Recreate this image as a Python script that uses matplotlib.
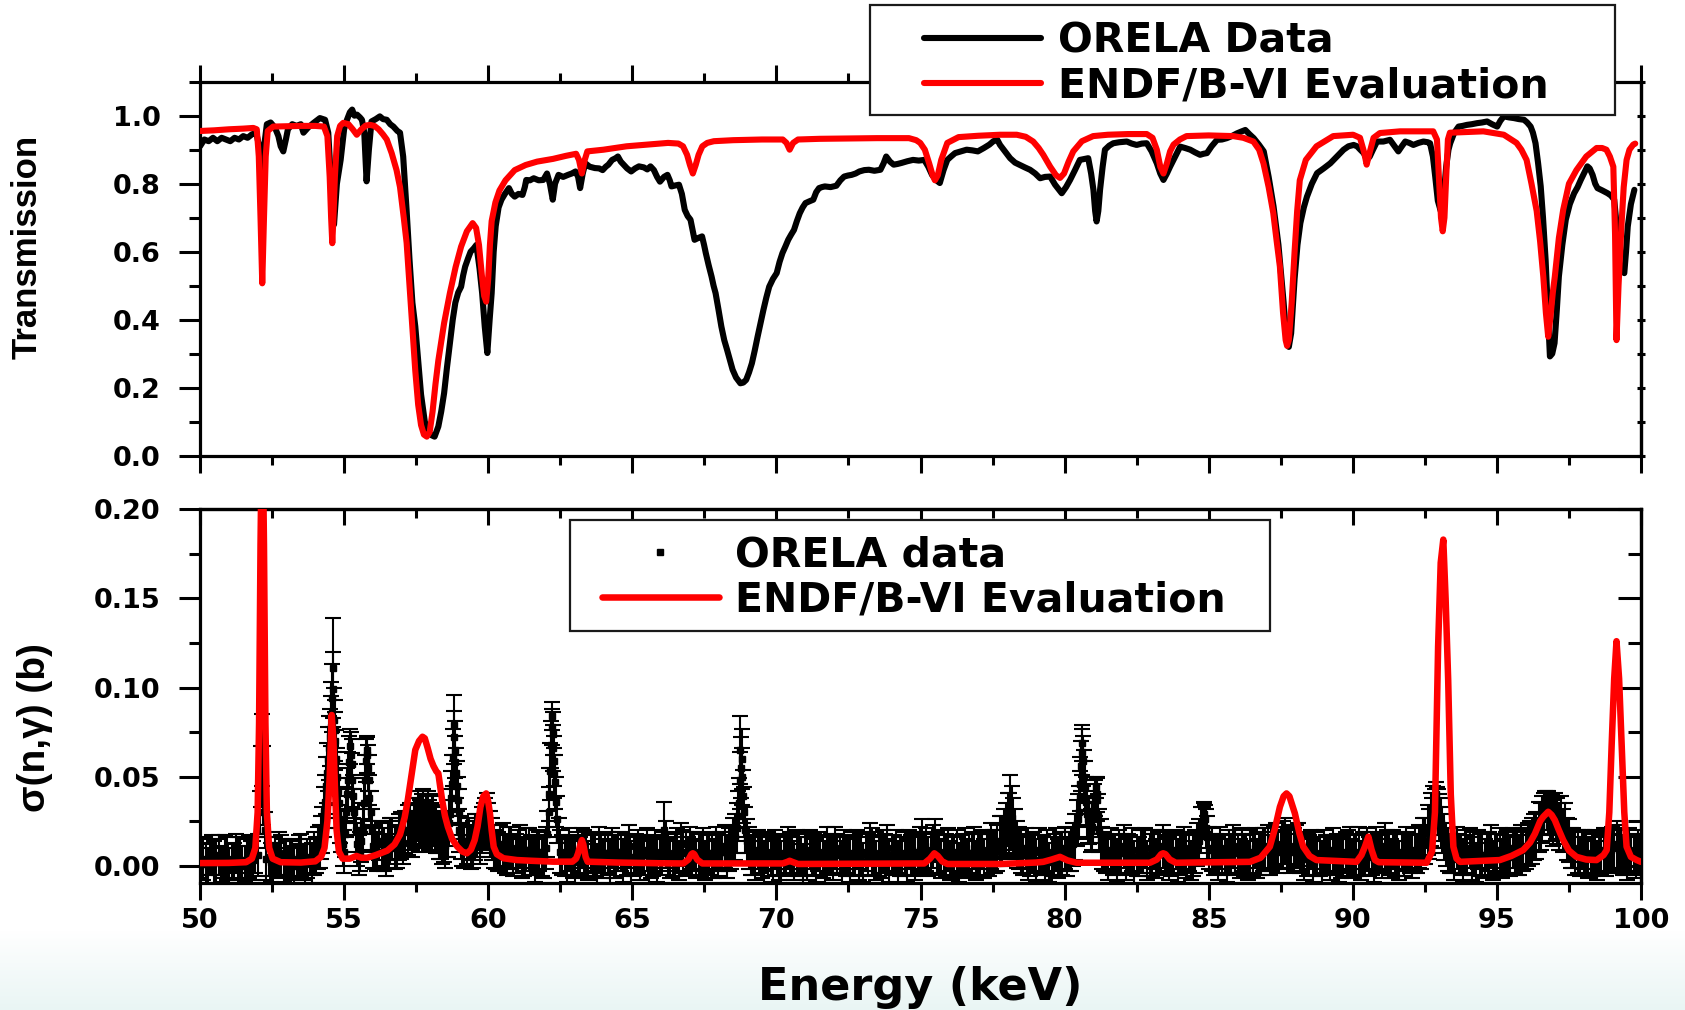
import numpy as np
import matplotlib
matplotlib.use('Agg')
import matplotlib.pyplot as plt
from matplotlib.lines import Line2D
from matplotlib.patches import Rectangle
from matplotlib.ticker import MultipleLocator, FormatStrFormatter

# ---------------- data: transmission (top panel) ----------------
trans_E = [50.0, 50.15, 50.3, 50.45, 50.6, 50.75, 50.9, 51.05, 51.2, 51.35,
           51.5, 51.65, 51.8, 51.95, 52.08, 52.16, 52.24, 52.32, 52.45, 52.6,
           52.72, 52.8, 52.89, 52.98, 53.05, 53.2, 53.35, 53.5, 53.59, 53.75,
           53.93, 54.16, 54.34, 54.45, 54.55, 54.65, 54.75, 54.88, 55.0, 55.1,
           55.2, 55.28, 55.36, 55.45, 55.55, 55.62, 55.7, 55.78, 55.86, 55.95,
           56.1, 56.24, 56.35, 56.48, 56.6, 56.71, 56.85, 56.94, 57.05, 57.17,
           57.27, 57.37, 57.47, 57.57, 57.67, 57.8, 57.94, 58.04, 58.14, 58.27,
           58.37, 58.47, 58.57, 58.67, 58.77, 58.86, 58.96, 59.06, 59.13, 59.2,
           59.3, 59.39, 59.5, 59.59, 59.7, 59.79, 59.88, 59.97, 60.05, 60.12,
           60.19, 60.26, 60.36, 60.46, 60.58, 60.72, 60.82, 60.92, 61.05, 61.19,
           61.27, 61.32, 61.45, 61.58, 61.75, 61.91, 62.04, 62.14, 62.24, 62.32,
           62.44, 62.6, 62.77, 62.9, 63.03, 63.12, 63.19, 63.28, 63.37, 63.52,
           63.7, 63.85, 63.97, 64.08, 64.17, 64.3, 64.42, 64.5, 64.6, 64.7,
           64.82, 64.96, 65.1, 65.23, 65.4, 65.52, 65.63, 65.75, 65.86, 65.96,
           66.1, 66.22, 66.3, 66.36, 66.5, 66.62, 66.72, 66.82, 66.92, 67.02,
           67.1, 67.16, 67.28, 67.42, 67.49, 67.55, 67.65, 67.75, 67.82, 67.89,
           67.99, 68.09, 68.19, 68.29, 68.39, 68.48, 68.6, 68.75, 68.85, 68.95,
           69.05, 69.15, 69.25, 69.35, 69.45, 69.55, 69.65, 69.75, 69.88, 70.01,
           70.11, 70.21, 70.31, 70.41, 70.51, 70.61, 70.71, 70.81, 70.91, 71.01,
           71.14, 71.28, 71.38, 71.48, 71.58, 71.68, 71.88, 72.08, 72.22, 72.35,
           72.48, 72.61, 72.75, 72.88, 73.05, 73.21, 73.4, 73.61, 73.72, 73.81,
           73.94, 74.07, 74.2, 74.34, 74.54, 74.74, 74.94, 75.13, 75.27, 75.4,
           75.55, 75.67, 75.8, 75.93, 76.06, 76.2, 76.4, 76.6, 76.8, 76.99,
           77.2, 77.39, 77.53, 77.66, 77.76, 77.93, 78.11, 78.28, 78.45, 78.62,
           78.8, 78.98, 79.15, 79.32, 79.5, 79.67, 79.9, 80.05, 80.19, 80.36,
           80.53, 80.7, 80.82, 80.92, 81.0, 81.06, 81.11, 81.17, 81.23, 81.32,
           81.4, 81.55, 81.69, 81.9, 82.16, 82.33, 82.5, 82.68, 82.85, 83.02,
           83.2, 83.32, 83.43, 83.55, 83.66, 83.84, 84.01, 84.18, 84.36, 84.53,
           84.7, 84.82, 84.94, 85.1, 85.29, 85.46, 85.63, 85.8, 85.98, 86.12,
           86.27, 86.42, 86.56, 86.74, 86.91, 87.08, 87.25, 87.42, 87.6, 87.7,
           87.78, 87.86, 87.98, 88.08, 88.18, 88.3, 88.41, 88.58, 88.76, 88.99,
           89.22, 89.45, 89.68, 89.85, 90.03, 90.15, 90.26, 90.38, 90.49, 90.59,
           90.7, 90.84, 91.06, 91.29, 91.45, 91.58, 91.7, 91.82, 91.96, 92.1,
           92.28, 92.45, 92.6, 92.68, 92.78, 92.86, 92.95, 93.05, 93.14, 93.24,
           93.32, 93.38, 93.52, 93.67, 93.81, 93.96, 94.13, 94.31, 94.48, 94.66,
           94.83, 95.01, 95.12, 95.24, 95.42, 95.59, 95.76, 95.94, 96.05, 96.17,
           96.25, 96.34, 96.43, 96.52, 96.6, 96.69, 96.77, 96.84, 96.92, 97.0,
           97.08, 97.15, 97.27, 97.39, 97.53, 97.68, 97.8, 97.91, 98.02, 98.14,
           98.22, 98.32, 98.41, 98.49, 98.66, 98.84, 98.96, 99.07, 99.13, 99.19,
           99.3, 99.42, 99.48, 99.54, 99.65, 99.77]
trans_T = [0.91, 0.93, 0.925, 0.935, 0.925, 0.935, 0.93, 0.925, 0.935, 0.93,
           0.94, 0.935, 0.945, 0.95, 0.90, 0.80, 0.92, 0.975, 0.98, 0.965,
           0.94, 0.91, 0.895, 0.93, 0.96, 0.975, 0.97, 0.975, 0.95, 0.965,
           0.978, 0.993, 0.988, 0.95, 0.80, 0.68, 0.80, 0.87, 0.96, 0.988,
           1.01, 1.018, 1.0, 1.003, 0.995, 0.988, 0.95, 0.807, 0.90, 0.983,
           0.99, 0.998, 0.99, 0.988, 0.975, 0.968, 0.955, 0.95, 0.88, 0.72,
           0.576, 0.45, 0.38, 0.28, 0.18, 0.10, 0.066, 0.06, 0.056, 0.086,
           0.13, 0.184, 0.26, 0.33, 0.40, 0.45, 0.48, 0.497, 0.53, 0.556,
           0.58, 0.60, 0.61, 0.62, 0.55, 0.478, 0.38, 0.302, 0.40, 0.478,
           0.60, 0.675, 0.73, 0.753, 0.77, 0.787, 0.77, 0.762, 0.77, 0.767,
           0.79, 0.811, 0.81, 0.816, 0.81, 0.811, 0.83, 0.80, 0.753, 0.80,
           0.826, 0.82, 0.826, 0.83, 0.836, 0.82, 0.787, 0.83, 0.86, 0.85,
           0.846, 0.845, 0.84, 0.85, 0.856, 0.87, 0.875, 0.88, 0.865, 0.856,
           0.845, 0.836, 0.845, 0.851, 0.848, 0.842, 0.851, 0.84, 0.82, 0.806,
           0.82, 0.826, 0.81, 0.792, 0.795, 0.797, 0.77, 0.723, 0.705, 0.694,
           0.66, 0.635, 0.64, 0.645, 0.62, 0.596, 0.56, 0.527, 0.50, 0.478,
           0.43, 0.38, 0.34, 0.311, 0.28, 0.253, 0.23, 0.213, 0.215, 0.223,
           0.245, 0.272, 0.31, 0.351, 0.39, 0.429, 0.465, 0.497, 0.52, 0.537,
           0.57, 0.596, 0.615, 0.635, 0.65, 0.664, 0.69, 0.713, 0.73, 0.743,
           0.748, 0.753, 0.775, 0.787, 0.79, 0.792, 0.79, 0.794, 0.81, 0.821,
           0.824, 0.826, 0.83, 0.836, 0.84, 0.841, 0.838, 0.841, 0.86, 0.88,
           0.865, 0.856, 0.858, 0.861, 0.866, 0.87, 0.868, 0.87, 0.85, 0.826,
           0.81, 0.802, 0.84, 0.87, 0.88, 0.89, 0.895, 0.90, 0.898, 0.895,
           0.905, 0.915, 0.925, 0.93, 0.914, 0.895, 0.875, 0.862, 0.855, 0.848,
           0.841, 0.83, 0.816, 0.82, 0.821, 0.797, 0.772, 0.79, 0.811, 0.84,
           0.87, 0.873, 0.875, 0.83, 0.782, 0.72, 0.689, 0.72, 0.782, 0.85,
           0.90, 0.912, 0.919, 0.922, 0.924, 0.918, 0.914, 0.918, 0.919, 0.895,
           0.86, 0.83, 0.811, 0.83, 0.85, 0.88, 0.909, 0.905, 0.90, 0.892,
           0.885, 0.888, 0.89, 0.91, 0.929, 0.93, 0.934, 0.94, 0.948, 0.953,
           0.958, 0.945, 0.934, 0.915, 0.895, 0.82, 0.733, 0.62, 0.45, 0.34,
           0.32, 0.36, 0.52, 0.62, 0.684, 0.73, 0.762, 0.80, 0.831, 0.845,
           0.86, 0.88, 0.90, 0.91, 0.914, 0.91, 0.90, 0.89, 0.87, 0.88,
           0.90, 0.924, 0.924, 0.929, 0.91, 0.895, 0.91, 0.924, 0.92, 0.914,
           0.92, 0.924, 0.922, 0.919, 0.88, 0.821, 0.75, 0.72, 0.75, 0.85,
           0.90, 0.919, 0.95, 0.968, 0.97, 0.973, 0.975, 0.978, 0.98, 0.983,
           0.975, 0.968, 0.985, 0.998, 0.995, 0.993, 0.99, 0.988, 0.98, 0.968,
           0.95, 0.919, 0.86, 0.792, 0.70, 0.576, 0.42, 0.292, 0.30, 0.331,
           0.43, 0.527, 0.62, 0.694, 0.74, 0.772, 0.79, 0.811, 0.83, 0.851,
           0.845, 0.826, 0.80, 0.787, 0.78, 0.772, 0.765, 0.753, 0.70, 0.576,
           0.55, 0.537, 0.60, 0.674, 0.74, 0.782]

endf_T_E = [50.0, 50.5, 51.0, 51.5, 51.85, 51.97, 52.04, 52.1, 52.16, 52.22,
            52.28, 52.35, 52.54, 53.0, 53.5, 54.0, 54.3, 54.42, 54.5, 54.55,
            54.59, 54.63, 54.68, 54.76, 54.86, 54.97, 55.15, 55.3, 55.44, 55.6,
            55.75, 55.9, 56.05, 56.2, 56.35, 56.48, 56.65, 56.82, 56.94, 57.07,
            57.17, 57.27, 57.37, 57.47, 57.57, 57.67, 57.77, 57.87, 57.97, 58.07,
            58.17, 58.27, 58.47, 58.67, 58.87, 59.06, 59.26, 59.46, 59.58, 59.68,
            59.78, 59.86, 59.93, 60.0, 60.06, 60.12, 60.25, 60.39, 60.6, 60.92,
            61.3, 61.7, 62.25, 62.7, 63.05, 63.15, 63.25, 63.35, 63.44, 64.0,
            64.8, 65.5, 66.24, 66.6, 66.76, 66.9, 67.0, 67.1, 67.2, 67.3,
            67.43, 67.6, 67.83, 68.5, 69.5, 70.22, 70.35, 70.46, 70.58, 70.75,
            71.5, 72.5, 73.5, 74.6, 74.85, 74.99, 75.15, 75.3, 75.42, 75.5,
            75.6, 75.72, 75.93, 76.32, 77.0, 77.76, 78.34, 78.65, 78.91, 79.1,
            79.26, 79.5, 79.7, 79.84, 79.98, 80.14, 80.3, 80.6, 80.99, 81.5,
            82.2, 82.85, 83.05, 83.2, 83.32, 83.43, 83.55, 83.66, 83.78, 84.0,
            84.23, 85.0, 85.85, 86.2, 86.55, 86.75, 86.9, 87.08, 87.24, 87.36,
            87.47, 87.58, 87.67, 87.72, 87.78, 87.88, 87.98, 88.07, 88.16, 88.37,
            88.74, 89.32, 90.01, 90.25, 90.4, 90.48, 90.58, 90.72, 90.94, 91.64,
            92.79, 92.92, 93.0, 93.06, 93.12, 93.18, 93.24, 93.3, 93.37, 94.53,
            95.24, 95.5, 95.68, 95.85, 96.03, 96.2, 96.38, 96.5, 96.61, 96.7,
            96.78, 96.86, 96.94, 97.01, 97.15, 97.3, 97.5, 97.76, 98.1, 98.46,
            98.65, 98.8, 98.92, 99.04, 99.1, 99.15, 99.22, 99.32, 99.4, 99.5,
            99.6, 99.73, 99.8]
endf_T = [0.955, 0.957, 0.96, 0.962, 0.964, 0.96, 0.88, 0.70, 0.507, 0.70,
          0.88, 0.955, 0.968, 0.969, 0.97, 0.97, 0.968, 0.94, 0.82, 0.70,
          0.625, 0.70, 0.82, 0.94, 0.97, 0.979, 0.975, 0.96, 0.944, 0.96,
          0.971, 0.973, 0.97, 0.96, 0.945, 0.93, 0.89, 0.84, 0.79, 0.70,
          0.626, 0.50, 0.37, 0.25, 0.15, 0.09, 0.062, 0.056, 0.07, 0.13,
          0.21, 0.28, 0.39, 0.478, 0.555, 0.615, 0.66, 0.684, 0.67, 0.62,
          0.53, 0.47, 0.453, 0.52, 0.62, 0.69, 0.745, 0.78, 0.81, 0.84,
          0.855, 0.865, 0.873, 0.882, 0.888, 0.87, 0.83, 0.87, 0.895, 0.90,
          0.91, 0.915, 0.92, 0.918, 0.91, 0.885, 0.855, 0.83, 0.855, 0.885,
          0.91, 0.92, 0.925, 0.928, 0.93, 0.93, 0.92, 0.90, 0.92, 0.93,
          0.932, 0.933, 0.934, 0.934, 0.928, 0.92, 0.90, 0.86, 0.825, 0.81,
          0.825, 0.87, 0.92, 0.937, 0.941, 0.944, 0.944, 0.938, 0.924, 0.905,
          0.885, 0.85, 0.825, 0.817, 0.83, 0.865, 0.895, 0.925, 0.94, 0.944,
          0.946, 0.946, 0.935, 0.90, 0.85, 0.83, 0.86, 0.895, 0.915, 0.93,
          0.94, 0.942, 0.94, 0.935, 0.924, 0.90, 0.86, 0.79, 0.714, 0.63,
          0.556, 0.42, 0.34, 0.323, 0.34, 0.45, 0.60, 0.72, 0.81, 0.87,
          0.91, 0.94, 0.944, 0.935, 0.89, 0.856, 0.89, 0.935, 0.949, 0.954,
          0.954, 0.93, 0.80, 0.70, 0.66, 0.70, 0.82, 0.93, 0.95, 0.954,
          0.944, 0.93, 0.92, 0.90, 0.87, 0.80, 0.72, 0.63, 0.527, 0.42,
          0.35, 0.41, 0.48, 0.527, 0.64, 0.723, 0.80, 0.84, 0.88, 0.905,
          0.905, 0.90, 0.88, 0.85, 0.65, 0.34, 0.50, 0.674, 0.79, 0.87,
          0.90, 0.915, 0.918]

# ---------------- data: capture cross section (bottom panel) ----------------
# measured points, first interleaved set
cap_E = [50.05, 50.2, 50.35, 50.5, 50.65, 50.8, 50.95, 51.1, 51.25, 51.4,
         51.55, 51.7, 51.85, 52.0, 52.08, 52.12, 52.16, 52.2, 52.24, 52.3,
         52.45, 52.6, 52.75, 52.9, 53.05, 53.2, 53.35, 53.5, 53.65, 53.8,
         53.95, 54.1, 54.2, 54.3, 54.38, 54.44, 54.5, 54.55, 54.6, 54.63,
         54.66, 54.7, 54.76, 54.82, 54.9, 55.0, 55.08, 55.14, 55.2, 55.26,
         55.32, 55.4, 55.5, 55.6, 55.7, 55.76, 55.8, 55.85, 55.92, 56.0,
         56.15, 56.3, 56.45, 56.6, 56.75, 56.9, 57.05, 57.2, 57.35, 57.5,
         57.6, 57.7, 57.8, 57.9, 58.0, 58.1, 58.2, 58.3, 58.4, 58.5,
         58.6, 58.68, 58.74, 58.8, 58.84, 58.88, 58.94, 59.0, 59.1, 59.25,
         59.4, 59.55, 59.7, 59.85, 59.95, 60.05, 60.2, 60.35, 60.5, 60.65,
         60.8, 60.95, 61.1, 61.25, 61.4, 61.55, 61.7, 61.85, 62.0, 62.1,
         62.15, 62.2, 62.24, 62.28, 62.32, 62.38, 62.5, 62.65, 62.8, 62.95,
         63.1, 63.25, 63.4, 63.55, 63.7, 63.85, 64.0, 64.15, 64.3, 64.45,
         64.6, 64.75, 64.9, 65.05, 65.2, 65.35, 65.5, 65.65, 65.8, 65.95,
         66.1, 66.25, 66.4, 66.55, 66.7, 66.85, 67.0, 67.15, 67.3, 67.45,
         67.6, 67.75, 67.9, 68.05, 68.2, 68.35, 68.5, 68.62, 68.7, 68.75,
         68.8, 68.85, 68.92, 69.05, 69.2, 69.35, 69.5, 69.65, 69.8, 69.95,
         70.1, 70.25, 70.4, 70.55, 70.7, 70.85, 71.0, 71.15, 71.3, 71.45,
         71.6, 71.75, 71.9, 72.05, 72.2, 72.35, 72.5, 72.65, 72.8, 72.95,
         73.1, 73.25, 73.4, 73.55, 73.7, 73.85, 74.0, 74.15, 74.3, 74.45,
         74.6, 74.75, 74.9, 75.05, 75.2, 75.35, 75.5, 75.65, 75.8, 75.95,
         76.1, 76.25, 76.4, 76.55, 76.7, 76.85, 77.0, 77.15, 77.3, 77.45,
         77.6, 77.75, 77.9, 78.02, 78.12, 78.22, 78.35, 78.5, 78.65, 78.8,
         78.95, 79.1, 79.25, 79.4, 79.55, 79.7, 79.85, 80.0, 80.15, 80.3,
         80.42, 80.5, 80.55, 80.6, 80.65, 80.7, 80.78, 80.86, 80.95, 81.02,
         81.08, 81.14, 81.2, 81.3, 81.45, 81.6, 81.75, 81.9, 82.05, 82.2,
         82.35, 82.5, 82.65, 82.8, 82.95, 83.1, 83.25, 83.4, 83.55, 83.7,
         83.85, 84.0, 84.15, 84.3, 84.45, 84.6, 84.75, 84.82, 84.88, 84.95,
         85.1, 85.25, 85.4, 85.55, 85.7, 85.85, 86.0, 86.15, 86.3, 86.45,
         86.6, 86.75, 86.9, 87.05, 87.2, 87.35, 87.5, 87.65, 87.8, 87.95,
         88.1, 88.25, 88.4, 88.55, 88.7, 88.85, 89.0, 89.15, 89.3, 89.45,
         89.6, 89.75, 89.9, 90.05, 90.2, 90.35, 90.5, 90.65, 90.8, 90.95,
         91.1, 91.25, 91.4, 91.55, 91.7, 91.85, 92.0, 92.15, 92.3, 92.45,
         92.6, 92.7, 92.8, 92.88, 92.96, 93.05, 93.15, 93.3, 93.45, 93.6,
         93.75, 93.9, 94.05, 94.2, 94.35, 94.5, 94.65, 94.8, 94.95, 95.1,
         95.25, 95.4, 95.55, 95.7, 95.85, 96.0, 96.15, 96.3, 96.45, 96.58,
         96.68, 96.78, 96.9, 97.0, 97.1, 97.22, 97.35, 97.5, 97.65, 97.8,
         97.95, 98.1, 98.25, 98.4, 98.55, 98.7, 98.85, 99.0, 99.15, 99.3,
         99.45, 99.6, 99.75, 99.9]
cap_sig = [0.003, 0.001, 0.005, 0.002, 0.006, 0.000, 0.004, 0.002, 0.007, 0.003,
           0.001, 0.005, 0.003, 0.006, 0.030, 0.050, 0.065, 0.045, 0.020, 0.004,
           0.002, 0.005, 0.007, 0.003, 0.000, 0.004, 0.002, 0.006, 0.001, 0.005,
           0.007, 0.010, 0.016, 0.030, 0.045, 0.060, 0.072, 0.085, 0.099, 0.111,
           0.082, 0.070, 0.050, 0.035, 0.020, 0.008, 0.030, 0.048, 0.067, 0.057,
           0.039, 0.020, 0.006, 0.014, 0.035, 0.059, 0.065, 0.048, 0.030, 0.011,
           0.008, 0.012, 0.006, 0.014, 0.010, 0.016, 0.013, 0.020, 0.018, 0.024,
           0.021, 0.026, 0.023, 0.028, 0.022, 0.025, 0.020, 0.016, 0.014, 0.011,
           0.018, 0.029, 0.046, 0.079, 0.065, 0.052, 0.037, 0.020, 0.012, 0.014,
           0.010, 0.016, 0.013, 0.022, 0.026, 0.018, 0.011, 0.008, 0.012, 0.006,
           0.010, 0.007, 0.011, 0.005, 0.009, 0.006, 0.008, 0.005, 0.010, 0.030,
           0.053, 0.084, 0.074, 0.059, 0.047, 0.026, 0.008, 0.005, 0.009, 0.004,
           0.007, 0.010, 0.005, 0.008, 0.006, 0.009, 0.004, 0.007, 0.010, 0.005,
           0.008, 0.006, 0.011, 0.005, 0.008, 0.006, 0.009, 0.004, 0.008, 0.006,
           0.020, 0.007, 0.005, 0.009, 0.012, 0.007, 0.010, 0.008, 0.006, 0.009,
           0.007, 0.005, 0.010, 0.008, 0.011, 0.009, 0.014, 0.021, 0.035, 0.065,
           0.060, 0.039, 0.020, 0.010, 0.007, 0.009, 0.005, 0.008, 0.006, 0.009,
           0.004, 0.007, 0.010, 0.006, 0.008, 0.005, 0.007, 0.009, 0.006, 0.008,
           0.005, 0.009, 0.007, 0.010, 0.006, 0.008, 0.005, 0.007, 0.009, 0.006,
           0.008, 0.012, 0.007, 0.005, 0.008, 0.010, 0.006, 0.008, 0.005, 0.007,
           0.009, 0.006, 0.008, 0.012, 0.009, 0.007, 0.014, 0.008, 0.006, 0.009,
           0.005, 0.008, 0.006, 0.009, 0.007, 0.010, 0.006, 0.009, 0.007, 0.011,
           0.008, 0.014, 0.018, 0.026, 0.030, 0.022, 0.012, 0.008, 0.010, 0.006,
           0.008, 0.009, 0.006, 0.008, 0.005, 0.009, 0.007, 0.010, 0.008, 0.012,
           0.024, 0.030, 0.046, 0.069, 0.059, 0.044, 0.029, 0.024, 0.022, 0.032,
           0.044, 0.037, 0.020, 0.010, 0.007, 0.009, 0.006, 0.008, 0.011, 0.007,
           0.009, 0.005, 0.008, 0.010, 0.006, 0.009, 0.007, 0.011, 0.008, 0.006,
           0.009, 0.007, 0.010, 0.008, 0.006, 0.012, 0.020, 0.029, 0.026, 0.016,
           0.009, 0.007, 0.010, 0.006, 0.008, 0.011, 0.007, 0.009, 0.006, 0.008,
           0.010, 0.007, 0.009, 0.011, 0.008, 0.012, 0.010, 0.014, 0.011, 0.009,
           0.012, 0.008, 0.006, 0.009, 0.007, 0.005, 0.008, 0.006, 0.009, 0.007,
           0.005, 0.008, 0.010, 0.006, 0.008, 0.007, 0.009, 0.006, 0.010, 0.008,
           0.011, 0.007, 0.009, 0.006, 0.008, 0.010, 0.007, 0.009, 0.011, 0.014,
           0.020, 0.026, 0.033, 0.040, 0.030, 0.024, 0.016, 0.009, 0.007, 0.010,
           0.006, 0.008, 0.010, 0.007, 0.009, 0.006, 0.008, 0.011, 0.007, 0.009,
           0.006, 0.008, 0.010, 0.007, 0.011, 0.009, 0.013, 0.016, 0.022, 0.026,
           0.034, 0.030, 0.027, 0.029, 0.025, 0.027, 0.022, 0.014, 0.010, 0.008,
           0.009, 0.007, 0.005, 0.008, 0.006, 0.009, 0.007, 0.010, 0.012, 0.008,
           0.006, 0.009, 0.007, 0.008]
cap_err = [0.010, 0.011, 0.010, 0.012, 0.011, 0.010, 0.012, 0.010, 0.011, 0.013,
           0.010, 0.012, 0.011, 0.012, 0.012, 0.017, 0.020, 0.022, 0.010, 0.012,
           0.011, 0.011, 0.012, 0.012, 0.010, 0.011, 0.010, 0.012, 0.011, 0.010,
           0.012, 0.012, 0.012, 0.014, 0.016, 0.018, 0.016, 0.018, 0.021, 0.028,
           0.018, 0.016, 0.016, 0.014, 0.012, 0.012, 0.014, 0.016, 0.010, 0.014,
           0.012, 0.012, 0.011, 0.012, 0.014, 0.012, 0.008, 0.014, 0.012, 0.012,
           0.011, 0.012, 0.012, 0.013, 0.012, 0.013, 0.012, 0.014, 0.013, 0.014,
           0.013, 0.014, 0.013, 0.014, 0.013, 0.014, 0.013, 0.012, 0.013, 0.012,
           0.013, 0.014, 0.016, 0.017, 0.016, 0.014, 0.013, 0.012, 0.012, 0.013,
           0.012, 0.013, 0.012, 0.013, 0.015, 0.013, 0.012, 0.011, 0.012, 0.011,
           0.012, 0.011, 0.012, 0.011, 0.012, 0.011, 0.012, 0.011, 0.012, 0.014,
           0.016, 0.008, 0.012, 0.014, 0.015, 0.013, 0.012, 0.011, 0.012, 0.011,
           0.012, 0.011, 0.012, 0.011, 0.012, 0.013, 0.011, 0.012, 0.011, 0.012,
           0.011, 0.012, 0.012, 0.011, 0.012, 0.011, 0.012, 0.011, 0.012, 0.011,
           0.016, 0.012, 0.011, 0.012, 0.012, 0.012, 0.012, 0.011, 0.012, 0.012,
           0.011, 0.012, 0.012, 0.011, 0.012, 0.012, 0.013, 0.014, 0.014, 0.019,
           0.017, 0.015, 0.013, 0.012, 0.012, 0.011, 0.012, 0.011, 0.012, 0.011,
           0.012, 0.011, 0.012, 0.011, 0.012, 0.011, 0.012, 0.011, 0.012, 0.011,
           0.012, 0.013, 0.011, 0.012, 0.011, 0.012, 0.011, 0.012, 0.011, 0.012,
           0.011, 0.012, 0.012, 0.011, 0.012, 0.013, 0.011, 0.012, 0.011, 0.012,
           0.011, 0.012, 0.011, 0.014, 0.012, 0.011, 0.012, 0.012, 0.011, 0.012,
           0.011, 0.012, 0.011, 0.012, 0.011, 0.012, 0.012, 0.011, 0.012, 0.013,
           0.012, 0.014, 0.014, 0.015, 0.021, 0.016, 0.013, 0.012, 0.011, 0.012,
           0.011, 0.012, 0.011, 0.012, 0.011, 0.012, 0.012, 0.012, 0.011, 0.012,
           0.013, 0.015, 0.015, 0.010, 0.014, 0.015, 0.013, 0.012, 0.013, 0.014,
           0.006, 0.012, 0.012, 0.012, 0.011, 0.012, 0.011, 0.012, 0.012, 0.011,
           0.012, 0.011, 0.012, 0.011, 0.012, 0.011, 0.012, 0.012, 0.011, 0.012,
           0.011, 0.012, 0.012, 0.011, 0.012, 0.012, 0.013, 0.007, 0.008, 0.012,
           0.012, 0.011, 0.012, 0.011, 0.012, 0.012, 0.011, 0.012, 0.011, 0.012,
           0.011, 0.012, 0.012, 0.012, 0.011, 0.012, 0.012, 0.013, 0.012, 0.012,
           0.012, 0.011, 0.012, 0.011, 0.012, 0.011, 0.012, 0.011, 0.012, 0.011,
           0.012, 0.011, 0.012, 0.011, 0.014, 0.012, 0.012, 0.011, 0.012, 0.011,
           0.013, 0.012, 0.011, 0.012, 0.011, 0.012, 0.011, 0.012, 0.012, 0.013,
           0.014, 0.015, 0.012, 0.007, 0.013, 0.014, 0.013, 0.012, 0.011, 0.012,
           0.011, 0.012, 0.011, 0.012, 0.011, 0.012, 0.011, 0.012, 0.011, 0.012,
           0.011, 0.012, 0.011, 0.012, 0.012, 0.011, 0.012, 0.013, 0.014, 0.013,
           0.008, 0.012, 0.013, 0.012, 0.013, 0.012, 0.013, 0.012, 0.011, 0.012,
           0.011, 0.012, 0.011, 0.012, 0.011, 0.012, 0.011, 0.012, 0.013, 0.012,
           0.011, 0.012, 0.011, 0.012]

# measured points, second interleaved set
cap2_E = [50.12, 50.27, 50.42, 50.57, 50.72, 50.87, 51.02, 51.17, 51.32, 51.47,
          51.62, 51.77, 51.92, 52.38, 52.52, 52.67, 52.82, 52.97, 53.12, 53.27,
          53.42, 53.57, 53.72, 53.87, 54.02, 54.15, 54.25, 54.34, 54.41, 54.47,
          54.53, 54.58, 54.68, 54.73, 54.79, 54.86, 54.95, 55.04, 55.11, 55.17,
          55.23, 55.29, 55.36, 55.45, 55.55, 55.65, 55.73, 55.78, 55.82, 55.88,
          55.96, 56.07, 56.22, 56.37, 56.52, 56.67, 56.82, 56.97, 57.12, 57.27,
          57.42, 57.55, 57.65, 57.75, 57.85, 57.95, 58.05, 58.15, 58.25, 58.35,
          58.45, 58.55, 58.64, 58.71, 58.77, 58.82, 58.86, 58.91, 58.97, 59.05,
          59.17, 59.32, 59.47, 59.62, 59.77, 59.9, 60.0, 60.12, 60.27, 60.42,
          60.57, 60.72, 60.87, 61.02, 61.17, 61.32, 61.47, 61.62, 61.77, 61.92,
          62.05, 62.12, 62.18, 62.22, 62.26, 62.3, 62.35, 62.44, 62.57, 62.72,
          62.87, 63.02, 63.17, 63.32, 63.47, 63.62, 63.77, 63.92, 64.07, 64.22,
          64.37, 64.52, 64.67, 64.82, 64.97, 65.12, 65.27, 65.42, 65.57, 65.72,
          65.87, 66.02, 66.17, 66.32, 66.47, 66.62, 66.77, 66.92, 67.07, 67.22,
          67.37, 67.52, 67.67, 67.82, 67.97, 68.12, 68.27, 68.42, 68.56, 68.66,
          68.72, 68.78, 68.82, 68.88, 68.98, 69.12, 69.27, 69.42, 69.57, 69.72,
          69.87, 70.02, 70.17, 70.32, 70.47, 70.62, 70.77, 70.92, 71.07, 71.22,
          71.37, 71.52, 71.67, 71.82, 71.97, 72.12, 72.27, 72.42, 72.57, 72.72,
          72.87, 73.02, 73.17, 73.32, 73.47, 73.62, 73.77, 73.92, 74.07, 74.22,
          74.37, 74.52, 74.67, 74.82, 74.97, 75.12, 75.27, 75.42, 75.57, 75.72,
          75.87, 76.02, 76.17, 76.32, 76.47, 76.62, 76.77, 76.92, 77.07, 77.22,
          77.37, 77.52, 77.67, 77.82, 77.96, 78.07, 78.17, 78.28, 78.42, 78.57,
          78.72, 78.87, 79.02, 79.17, 79.32, 79.47, 79.62, 79.77, 79.92, 80.07,
          80.22, 80.36, 80.46, 80.52, 80.58, 80.62, 80.68, 80.74, 80.82, 80.9,
          80.98, 81.05, 81.11, 81.17, 81.25, 81.37, 81.52, 81.67, 81.82, 81.97,
          82.12, 82.27, 82.42, 82.57, 82.72, 82.87, 83.02, 83.17, 83.32, 83.47,
          83.62, 83.77, 83.92, 84.07, 84.22, 84.37, 84.52, 84.67, 84.79, 84.85,
          84.91, 85.02, 85.17, 85.32, 85.47, 85.62, 85.77, 85.92, 86.07, 86.22,
          86.37, 86.52, 86.67, 86.82, 86.97, 87.12, 87.27, 87.42, 87.57, 87.72,
          87.87, 88.02, 88.17, 88.32, 88.47, 88.62, 88.77, 88.92, 89.07, 89.22,
          89.37, 89.52, 89.67, 89.82, 89.97, 90.12, 90.27, 90.42, 90.57, 90.72,
          90.87, 91.02, 91.17, 91.32, 91.47, 91.62, 91.77, 91.92, 92.07, 92.22,
          92.37, 92.52, 92.65, 92.75, 92.84, 92.92, 93.0, 93.1, 93.22, 93.37,
          93.52, 93.67, 93.82, 93.97, 94.12, 94.27, 94.42, 94.57, 94.72, 94.87,
          95.02, 95.17, 95.32, 95.47, 95.62, 95.77, 95.92, 96.07, 96.22, 96.37,
          96.52, 96.63, 96.73, 96.84, 96.95, 97.05, 97.16, 97.28, 97.42, 97.57,
          97.72, 97.87, 98.02, 98.17, 98.32, 98.47, 98.62, 98.77, 98.92, 99.07,
          99.22, 99.37, 99.52, 99.67, 99.82, 99.97]
cap2_sig = [0.004, 0.000, 0.006, 0.002, 0.001, 0.005, -0.001, 0.003, 0.004, 0.000,
            0.004, 0.002, 0.006, 0.005, 0.001, 0.003, 0.006, 0.002, 0.004, 0.000,
            0.005, 0.002, 0.004, 0.001, 0.006, 0.011, 0.020, 0.036, 0.052, 0.066,
            0.078, 0.094, 0.076, 0.060, 0.042, 0.026, 0.012, 0.018, 0.040, 0.058,
            0.062, 0.048, 0.030, 0.012, 0.008, 0.022, 0.048, 0.062, 0.055, 0.038,
            0.020, 0.010, 0.014, 0.009, 0.012, 0.015, 0.011, 0.017, 0.019, 0.022,
            0.025, 0.028, 0.024, 0.029, 0.026, 0.023, 0.027, 0.021, 0.019, 0.017,
            0.014, 0.017, 0.024, 0.038, 0.061, 0.072, 0.058, 0.045, 0.030, 0.016,
            0.011, 0.015, 0.012, 0.017, 0.020, 0.024, 0.022, 0.015, 0.009, 0.011,
            0.007, 0.010, 0.005, 0.008, 0.004, 0.009, 0.006, 0.003, 0.008, 0.005,
            0.018, 0.040, 0.068, 0.078, 0.066, 0.052, 0.036, 0.015, 0.006, 0.003,
            0.006, 0.002, 0.005, 0.008, 0.003, 0.006, 0.001, 0.005, 0.007, 0.002,
            0.005, 0.008, 0.003, 0.006, 0.002, 0.007, 0.004, 0.006, 0.002, 0.005,
            0.003, 0.008, 0.012, 0.004, 0.006, 0.003, 0.008, 0.005, 0.007, 0.004,
            0.006, 0.003, 0.007, 0.004, 0.006, 0.008, 0.005, 0.010, 0.016, 0.028,
            0.048, 0.055, 0.050, 0.030, 0.014, 0.006, 0.004, 0.007, 0.002, 0.005,
            0.003, 0.006, 0.002, 0.005, 0.007, 0.003, 0.006, 0.001, 0.004, 0.006,
            0.003, 0.005, 0.002, 0.006, 0.004, 0.007, 0.002, 0.005, 0.003, 0.006,
            0.004, 0.002, 0.006, 0.008, 0.003, 0.005, 0.007, 0.003, 0.006, 0.002,
            0.005, 0.003, 0.006, 0.004, 0.009, 0.007, 0.005, 0.011, 0.007, 0.004,
            0.006, 0.003, 0.005, 0.002, 0.006, 0.004, 0.007, 0.003, 0.006, 0.004,
            0.006, 0.008, 0.010, 0.014, 0.020, 0.024, 0.027, 0.018, 0.010, 0.006,
            0.004, 0.007, 0.003, 0.006, 0.004, 0.002, 0.006, 0.004, 0.007, 0.005,
            0.009, 0.016, 0.026, 0.038, 0.056, 0.064, 0.050, 0.036, 0.026, 0.020,
            0.026, 0.038, 0.040, 0.028, 0.014, 0.008, 0.004, 0.006, 0.003, 0.007,
            0.004, 0.006, 0.002, 0.005, 0.008, 0.003, 0.006, 0.004, 0.008, 0.006,
            0.004, 0.006, 0.003, 0.007, 0.005, 0.003, 0.008, 0.014, 0.024, 0.027,
            0.021, 0.010, 0.006, 0.004, 0.007, 0.003, 0.006, 0.008, 0.004, 0.006,
            0.003, 0.006, 0.004, 0.007, 0.009, 0.006, 0.010, 0.008, 0.012, 0.010,
            0.008, 0.011, 0.007, 0.004, 0.006, 0.003, 0.005, 0.002, 0.006, 0.004,
            0.006, 0.003, 0.005, 0.008, 0.004, 0.006, 0.003, 0.007, 0.005, 0.003,
            0.007, 0.005, 0.008, 0.004, 0.006, 0.003, 0.006, 0.008, 0.005, 0.007,
            0.010, 0.014, 0.018, 0.024, 0.030, 0.034, 0.027, 0.020, 0.012, 0.007,
            0.004, 0.007, 0.003, 0.006, 0.004, 0.002, 0.006, 0.004, 0.007, 0.003,
            0.006, 0.004, 0.007, 0.005, 0.008, 0.006, 0.009, 0.012, 0.014, 0.017,
            0.022, 0.029, 0.031, 0.026, 0.024, 0.027, 0.022, 0.020, 0.015, 0.010,
            0.007, 0.005, 0.008, 0.004, 0.006, 0.003, 0.007, 0.005, 0.008, 0.011,
            0.009, 0.006, 0.004, 0.007, 0.005, 0.006]
cap2_err = [0.012, 0.010, 0.011, 0.013, 0.010, 0.012, 0.011, 0.010, 0.012, 0.011,
            0.011, 0.012, 0.010, 0.011, 0.012, 0.010, 0.011, 0.012, 0.010, 0.011,
            0.012, 0.010, 0.011, 0.012, 0.010, 0.012, 0.013, 0.015, 0.017, 0.018,
            0.017, 0.019, 0.017, 0.016, 0.015, 0.013, 0.012, 0.013, 0.015, 0.015,
            0.013, 0.015, 0.013, 0.012, 0.011, 0.013, 0.014, 0.010, 0.013, 0.013,
            0.012, 0.012, 0.011, 0.012, 0.013, 0.012, 0.012, 0.013, 0.012, 0.013,
            0.013, 0.014, 0.013, 0.014, 0.013, 0.014, 0.013, 0.013, 0.012, 0.013,
            0.012, 0.012, 0.013, 0.015, 0.016, 0.015, 0.015, 0.014, 0.013, 0.012,
            0.012, 0.012, 0.013, 0.012, 0.013, 0.014, 0.013, 0.012, 0.011, 0.012,
            0.011, 0.012, 0.011, 0.012, 0.011, 0.012, 0.011, 0.012, 0.011, 0.012,
            0.013, 0.015, 0.013, 0.010, 0.013, 0.014, 0.014, 0.012, 0.011, 0.012,
            0.011, 0.012, 0.011, 0.012, 0.011, 0.012, 0.011, 0.012, 0.011, 0.012,
            0.012, 0.011, 0.012, 0.011, 0.012, 0.011, 0.012, 0.011, 0.012, 0.011,
            0.012, 0.011, 0.013, 0.011, 0.012, 0.011, 0.012, 0.011, 0.012, 0.011,
            0.012, 0.011, 0.012, 0.011, 0.012, 0.011, 0.012, 0.012, 0.013, 0.014,
            0.016, 0.017, 0.016, 0.014, 0.012, 0.011, 0.012, 0.011, 0.012, 0.011,
            0.012, 0.011, 0.012, 0.011, 0.012, 0.011, 0.012, 0.011, 0.012, 0.011,
            0.012, 0.011, 0.012, 0.011, 0.012, 0.011, 0.012, 0.011, 0.012, 0.011,
            0.012, 0.011, 0.012, 0.013, 0.011, 0.012, 0.011, 0.012, 0.011, 0.012,
            0.011, 0.012, 0.011, 0.012, 0.013, 0.012, 0.011, 0.012, 0.012, 0.011,
            0.012, 0.011, 0.012, 0.011, 0.012, 0.011, 0.012, 0.011, 0.012, 0.011,
            0.012, 0.012, 0.013, 0.014, 0.015, 0.017, 0.018, 0.014, 0.012, 0.011,
            0.012, 0.011, 0.012, 0.011, 0.012, 0.011, 0.012, 0.011, 0.012, 0.011,
            0.012, 0.013, 0.014, 0.015, 0.014, 0.013, 0.015, 0.014, 0.013, 0.012,
            0.013, 0.010, 0.010, 0.012, 0.012, 0.011, 0.012, 0.011, 0.012, 0.011,
            0.012, 0.011, 0.012, 0.011, 0.012, 0.011, 0.012, 0.011, 0.012, 0.011,
            0.012, 0.011, 0.012, 0.011, 0.012, 0.011, 0.012, 0.012, 0.009, 0.008,
            0.011, 0.012, 0.011, 0.012, 0.011, 0.012, 0.011, 0.012, 0.011, 0.012,
            0.011, 0.012, 0.011, 0.012, 0.012, 0.011, 0.012, 0.012, 0.013, 0.012,
            0.012, 0.012, 0.011, 0.012, 0.011, 0.012, 0.011, 0.012, 0.011, 0.012,
            0.011, 0.012, 0.011, 0.012, 0.011, 0.012, 0.011, 0.012, 0.011, 0.012,
            0.011, 0.012, 0.012, 0.011, 0.012, 0.011, 0.012, 0.011, 0.012, 0.011,
            0.012, 0.013, 0.014, 0.014, 0.013, 0.010, 0.013, 0.013, 0.012, 0.011,
            0.012, 0.011, 0.012, 0.011, 0.012, 0.011, 0.012, 0.011, 0.012, 0.011,
            0.012, 0.011, 0.012, 0.011, 0.012, 0.011, 0.012, 0.012, 0.013, 0.013,
            0.013, 0.012, 0.011, 0.012, 0.013, 0.012, 0.013, 0.012, 0.012, 0.011,
            0.012, 0.011, 0.012, 0.011, 0.012, 0.011, 0.012, 0.011, 0.012, 0.012,
            0.012, 0.011, 0.012, 0.011, 0.012, 0.011]

endf_S_E = [50.0, 51.0, 51.6, 51.8, 51.92, 52.0, 52.05, 52.1, 52.16, 52.22,
            52.27, 52.32, 52.4, 52.52, 52.8, 53.5, 54.0, 54.2, 54.32, 54.42,
            54.5, 54.57, 54.63, 54.68, 54.74, 54.82, 54.95, 55.2, 55.43, 55.6,
            55.8, 56.1, 56.5, 56.75, 56.94, 57.1, 57.21, 57.35, 57.47, 57.6,
            57.72, 57.8, 57.9, 58.0, 58.1, 58.2, 58.27, 58.33, 58.4, 58.5,
            58.6, 58.75, 58.93, 59.1, 59.26, 59.4, 59.53, 59.63, 59.73, 59.83,
            59.93, 60.0, 60.06, 60.12, 60.19, 60.3, 60.53, 61.0, 61.5, 62.25,
            62.92, 63.05, 63.12, 63.2, 63.25, 63.3, 63.38, 63.45, 64.5, 66.0,
            66.77, 66.95, 67.05, 67.1, 67.15, 67.25, 67.43, 70.22, 70.38, 70.46,
            70.55, 70.75, 75.13, 75.33, 75.48, 75.6, 75.75, 75.93, 77.76, 79.0,
            79.26, 79.55, 79.84, 80.1, 80.42, 82.96, 83.2, 83.35, 83.42, 83.5,
            83.65, 83.86, 86.43, 86.8, 87.12, 87.3, 87.47, 87.6, 87.7, 87.8,
            87.99, 88.15, 88.28, 88.5, 88.74, 90.13, 90.3, 90.42, 90.54, 90.65,
            90.77, 90.9, 92.56, 92.75, 92.85, 92.96, 93.05, 93.14, 93.22, 93.31,
            93.4, 93.49, 93.6, 93.72, 95.1, 95.5, 95.91, 96.15, 96.32, 96.5,
            96.61, 96.78, 96.9, 97.01, 97.15, 97.3, 97.5, 97.76, 98.1, 98.46,
            98.7, 98.81, 98.9, 98.98, 99.07, 99.15, 99.24, 99.33, 99.42, 99.5,
            99.65, 99.85, 100.0]
endf_S = [0.0015, 0.0016, 0.002, 0.004, 0.01, 0.03, 0.08, 0.18, 0.26, 0.18,
          0.08, 0.03, 0.01, 0.004, 0.002, 0.0018, 0.0025, 0.005, 0.01, 0.025,
          0.05, 0.0846, 0.07, 0.045, 0.02, 0.008, 0.004, 0.004, 0.0055, 0.0045,
          0.0045, 0.006, 0.0085, 0.012, 0.0175, 0.027, 0.0369, 0.052, 0.065, 0.07,
          0.0724, 0.0715, 0.066, 0.06, 0.056, 0.053, 0.0518, 0.045, 0.0369, 0.028,
          0.0219, 0.015, 0.0107, 0.008, 0.007, 0.009, 0.0144, 0.022, 0.033, 0.039,
          0.0406, 0.036, 0.0294, 0.02, 0.0107, 0.0065, 0.0042, 0.0032, 0.0028, 0.0023,
          0.0023, 0.004, 0.007, 0.012, 0.0144, 0.012, 0.005, 0.0023, 0.0018, 0.0014,
          0.0013, 0.0035, 0.0065, 0.007, 0.0065, 0.0035, 0.0013, 0.0013, 0.0022, 0.0028,
          0.0022, 0.001, 0.0013, 0.004, 0.007, 0.0055, 0.0025, 0.001, 0.001, 0.0018,
          0.0022, 0.0035, 0.005, 0.003, 0.0017, 0.0017, 0.0035, 0.0065, 0.007, 0.0065,
          0.0035, 0.0017, 0.0022, 0.0045, 0.0107, 0.021, 0.033, 0.039, 0.0406, 0.039,
          0.0294, 0.018, 0.0107, 0.0055, 0.0032, 0.0022, 0.006, 0.0107, 0.0163, 0.009,
          0.0032, 0.002, 0.0017, 0.008, 0.03, 0.123, 0.17, 0.183, 0.15, 0.104,
          0.04, 0.0107, 0.004, 0.0022, 0.0032, 0.0055, 0.0088, 0.013, 0.018, 0.025,
          0.0275, 0.0303, 0.0285, 0.0256, 0.02, 0.0144, 0.0085, 0.005, 0.0035, 0.0032,
          0.006, 0.0088, 0.03, 0.067, 0.105, 0.126, 0.105, 0.067, 0.03, 0.0107,
          0.005, 0.0032, 0.0022]

x_ticks = [50, 55, 60, 65, 70, 75, 80, 85, 90, 95, 100]

# ---------------- figure ----------------
plt.rcParams['font.family'] = ['DejaVu Sans']
plt.rcParams['font.weight'] = 'bold'

W, H = 1685, 1010
fig = plt.figure(figsize=(W / 100, H / 100), dpi=100)
fig.patch.set_facecolor('white')


def fxp(px):
    return px / W


def fyp(py):
    return 1 - py / H


# light slide-background strip at the bottom
bg = fig.add_axes([0, 0, 1, fyp(930)], zorder=-10)
grad = np.linspace(0, 1, 64)[:, None]
c_top = np.array([1.0, 1.0, 1.0])
c_bot = np.array([0.915, 0.962, 0.958])
img = c_top[None, None, :] * (1 - grad[:, :, None]) + c_bot[None, None, :] * grad[:, :, None]
bg.imshow(img, aspect='auto', extent=[0, 1, 0, 1], origin='upper')
bg.set_axis_off()

L, R = 200, 1641
ax1 = fig.add_axes([fxp(L), fyp(455.7), fxp(R) - fxp(L), fyp(81.7) - fyp(455.7)])
ax2 = fig.add_axes([fxp(L), fyp(882.7), fxp(R) - fxp(L), fyp(509.3) - fyp(882.7)])

LW = 4.4
ax1.plot(trans_E, trans_T, color='black', lw=LW, solid_joinstyle='round',
         solid_capstyle='round', zorder=2)
ax1.plot(endf_T_E, endf_T, color='#ff0000', lw=LW, solid_joinstyle='round',
         solid_capstyle='round', zorder=3)

eb_style = dict(fmt='s', ms=4.8, color='black', ecolor='black', elinewidth=1.5,
                capsize=6, capthick=1.5, zorder=2)
ax2.errorbar(cap_E, cap_sig, yerr=cap_err, **eb_style)
ax2.errorbar(cap2_E, cap2_sig, yerr=cap2_err, **eb_style)
ax2.plot(endf_S_E, endf_S, color='#ff0000', lw=4.7, solid_joinstyle='round',
         solid_capstyle='round', zorder=3)

ax1.set_xlim(50, 100)
ax1.set_ylim(0, 1.1)
ax2.set_xlim(50, 100)
ax2.set_ylim(-0.0095, 0.2)

SPW = 2.3
TKW = 2.2
TLS = 19.5
for ax in (ax1, ax2):
    for sp in ax.spines.values():
        sp.set_linewidth(SPW)
    ax.set_xticks(x_ticks)
    ax.xaxis.set_minor_locator(MultipleLocator(2.5))
    ax.tick_params(axis='x', which='major', direction='out', length=12, width=TKW,
                   labelsize=TLS, pad=6.5)
    ax.tick_params(axis='x', which='minor', direction='out', length=6.5, width=TKW)
    ax.tick_params(axis='y', which='major', direction='out', length=15, width=TKW,
                   labelsize=TLS, pad=13.5, right=False)
    ax.tick_params(axis='y', which='minor', direction='out', length=8, width=TKW,
                   right=False)

# top panel ticks
ax1.yaxis.set_major_locator(MultipleLocator(0.2))
ax1.yaxis.set_minor_locator(MultipleLocator(0.1))
ax1.yaxis.set_major_formatter(FormatStrFormatter('%.1f'))
ax1.tick_params(axis='x', which='both', top=True, bottom=True, labelbottom=False)
sy1 = ax1.secondary_yaxis('right')
sy1.yaxis.set_major_locator(MultipleLocator(0.1))
sy1.tick_params(axis='y', which='major', direction='inout', length=6, width=TKW,
                labelright=False)
sy1.spines['right'].set_linewidth(SPW)

# bottom panel ticks
ax2.yaxis.set_major_locator(MultipleLocator(0.05))
ax2.yaxis.set_minor_locator(MultipleLocator(0.025))
ax2.yaxis.set_major_formatter(FormatStrFormatter('%.2f'))
ax2.tick_params(axis='x', which='both', top=False)
sx2 = ax2.secondary_xaxis('top')
sx2.set_xticks(x_ticks)
sx2.xaxis.set_minor_locator(MultipleLocator(2.5))
sx2.tick_params(axis='x', which='major', direction='in', length=11.5, width=TKW,
                labeltop=False)
sx2.tick_params(axis='x', which='minor', direction='in', length=6.5, width=TKW)
sx2.spines['top'].set_linewidth(SPW)
sy2 = ax2.secondary_yaxis('right')
sy2.yaxis.set_major_locator(MultipleLocator(0.05))
sy2.yaxis.set_minor_locator(MultipleLocator(0.025))
sy2.tick_params(axis='y', which='major', direction='in', length=16.5, width=TKW,
                labelright=False)
sy2.tick_params(axis='y', which='minor', direction='in', length=9.4, width=TKW)
sy2.spines['right'].set_linewidth(SPW)

# axis labels
ylab_font = dict(family=['Liberation Sans', 'DejaVu Sans'], weight='bold')
ax1.set_ylabel('Transmission', fontsize=25, **ylab_font)
ax1.yaxis.set_label_coords((27.5 - L) / (R - L), (455.7 - 247) / 374.0)
ax1.yaxis.label.set_va('center')
ax2.set_ylabel('σ(n,γ) (b)', fontsize=28, **ylab_font)
ax2.yaxis.set_label_coords((35 - L) / (R - L), (882.7 - 728) / 373.4)
ax2.yaxis.label.set_va('center')
ax2.set_xlabel('Energy (keV)', fontsize=32, weight='bold')
ax2.xaxis.set_label_coords(0.5, (882.7 - 966) / 373.4)
ax2.xaxis.label.set_va('top')

# legends (white boxes drawn over the axes frame)
LEG_FS = 29.5
fig.patches.append(Rectangle((fxp(870), fyp(115)), fxp(1615) - fxp(870), fyp(5) - fyp(115),
                             transform=fig.transFigure, facecolor='white',
                             edgecolor='#1a1a1a', lw=1.6, zorder=1))
fig.patches.append(Rectangle((fxp(569.5), fyp(631)), fxp(1270) - fxp(569.5), fyp(520) - fyp(631),
                             transform=fig.transFigure, facecolor='white',
                             edgecolor='#1a1a1a', lw=1.6, zorder=1))

h1 = [Line2D([], [], color='black', lw=LW, solid_capstyle='round'),
      Line2D([], [], color='#ff0000', lw=LW, solid_capstyle='round')]
leg1 = fig.legend(h1, ['ORELA Data', 'ENDF/B-VI Evaluation'], loc='upper left',
                  bbox_to_anchor=(fxp(924), fyp(21.5)), frameon=False, borderaxespad=0,
                  borderpad=0, handlelength=2.85, handletextpad=0.42, labelspacing=0.13,
                  prop=dict(size=LEG_FS, weight='bold'))
leg1.set_zorder(6)

h2 = [Line2D([], [], color='black', marker='s', ms=5, ls='none'),
      Line2D([], [], color='#ff0000', lw=4.7, solid_capstyle='round')]
leg2 = fig.legend(h2, ['ORELA data', 'ENDF/B-VI Evaluation'], loc='upper left',
                  bbox_to_anchor=(fxp(602), fyp(535.5)), frameon=False, borderaxespad=0,
                  borderpad=0, handlelength=2.85, handletextpad=0.4, labelspacing=0.13,
                  prop=dict(size=LEG_FS, weight='bold'))
leg2.set_zorder(6)

fig.savefig('out.png', dpi=100, facecolor='white')
